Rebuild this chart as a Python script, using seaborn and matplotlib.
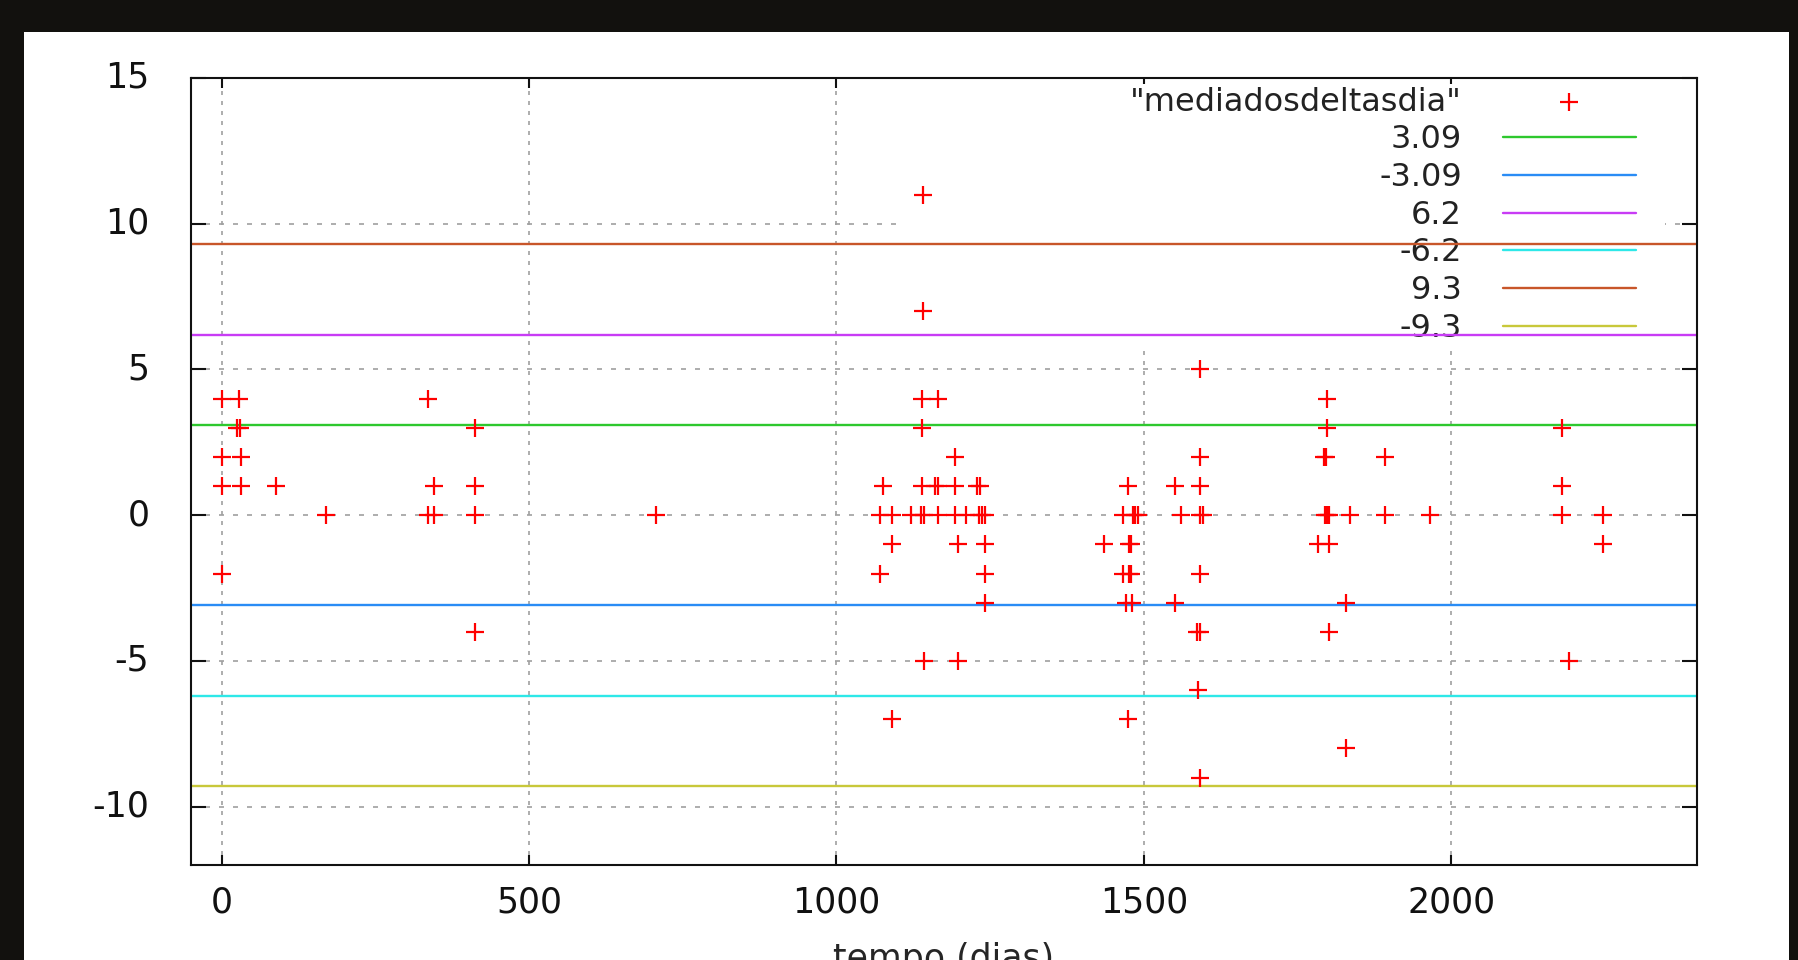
import matplotlib
matplotlib.use("Agg")
import matplotlib.pyplot as plt
import matplotlib.patches as mpatches
import matplotlib.transforms as mtransforms
import seaborn as sns

# daily mean deltas (x = day, y = delta)
days = [
    1141,
    1141,
    1592,
    0, 28, 336, 1139, 1166, 1798,
    25, 30, 412, 1139, 1798, 2180,
    0, 31, 1193, 1592, 1793, 1797, 1893,
    0, 31, 89, 345, 412, 1076, 1139, 1161, 1166, 1193, 1228, 1234, 1475, 1551, 1592, 2180,
    170, 336, 345, 412, 707, 1071, 1090, 1121, 1138, 1143, 1166, 1193, 1211, 1232, 1237, 1242,
    1466, 1482, 1486, 1490, 1560, 1592, 1597, 1795, 1798, 1801, 1835, 1893, 1965, 2180, 2247,
    1090, 1197, 1242, 1435, 1476, 1480, 1784, 1802, 2247,
    0, 1071, 1242, 1467, 1476, 1480, 1592,
    1242, 1471, 1481, 1551, 1829,
    412, 1587, 1591, 1802,
    1143, 1197, 2192,
    1588,
    1090, 1475,
    1829,
    1592,
]
delta = [
    11,
    7,
    5,
    4, 4, 4, 4, 4, 4,
    3, 3, 3, 3, 3, 3,
    2, 2, 2, 2, 2, 2, 2,
    1, 1, 1, 1, 1, 1, 1, 1, 1, 1, 1, 1, 1, 1, 1, 1,
    0, 0, 0, 0, 0, 0, 0, 0, 0, 0, 0, 0, 0, 0, 0, 0,
    0, 0, 0, 0, 0, 0, 0, 0, 0, 0, 0, 0, 0, 0, 0,
    -1, -1, -1, -1, -1, -1, -1, -1, -1,
    -2, -2, -2, -2, -2, -2, -2,
    -3, -3, -3, -3, -3,
    -4, -4, -4, -4,
    -5, -5, -5,
    -6,
    -7, -7,
    -8,
    -9,
]

limit_values = [3.09, -3.09, 6.2, -6.2, 9.3, -9.3]
limit_labels = ["3.09", "-3.09", "6.2", "-6.2", "9.3", "-9.3"]
limit_colors = ["#2ec82e", "#2a8cf5", "#c83cf5", "#2ee8e8", "#c8562a", "#c8c83a"]

x_ticks = [0, 500, 1000, 1500, 2000]
y_ticks = [-10, -5, 0, 5, 10, 15]

sns.set_style("white")
plt.rcParams.update({
    "font.family": ["DejaVu Sans"],
    "axes.unicode_minus": False,
    "text.color": "#222222",
    "xtick.color": "#111111",
    "ytick.color": "#111111",
})

W, H = 1798, 960
fig = plt.figure(figsize=(W / 100, H / 100), dpi=100, facecolor="#12110e")
fig.patches.append(mpatches.Rectangle((24 / W, 0), (1789 - 24) / W, (H - 32) / H,
                                      transform=fig.transFigure, facecolor="white",
                                      edgecolor="none", zorder=-10))

ax = fig.add_axes([191 / W, 1 - 865 / H, (1697 - 191) / W, (865 - 78) / H])
ax.set_facecolor("white")

sns.scatterplot(x=days, y=delta, marker="+", color="red", s=160, linewidth=1.6,
                ax=ax, zorder=3, legend=False)
handles = [ax.collections[-1]]
for val, lab, col in zip(limit_values, limit_labels, limit_colors):
    handles.append(ax.axhline(val, color=col, linewidth=1.7, label=lab, zorder=2))

ax.set_xlim(-50, 2400)
ax.set_ylim(-12, 15)
ax.set_xticks(x_ticks)
ax.set_yticks(y_ticks)

ax.set_axisbelow(True)
ax.grid(axis="y", color="#a0a0a0", linewidth=1.2, linestyle=(0, (3, 5.4)))
ax.grid(axis="x", color="#a0a0a0", linewidth=1.2, linestyle=(0, (2.4, 3.6)))

for sp in ax.spines.values():
    sp.set_visible(True)
    sp.set_color("#111111")
    sp.set_linewidth(1.5)

ax.tick_params(axis="y", direction="in", length=11, width=1.5, pad=30,
               labelsize=25, left=True, right=True)
ax.tick_params(axis="x", direction="in", length=7, width=1.5, pad=15,
               labelsize=25, bottom=True, top=True)

# gnuplot puts the y labels a touch above their ticks
lift = mtransforms.ScaledTranslation(0, 3.5 / 100, fig.dpi_scale_trans)
for lbl in ax.get_yticklabels():
    lbl.set_transform(lbl.get_transform() + lift)

ax.set_xlabel("tempo (dias)", fontsize=25, labelpad=16)

# opaque key box, like gnuplot's, hiding the grid behind the key
ax.add_patch(mpatches.Rectangle((0.469, 0.659), 0.979 - 0.469, 0.992 - 0.659,
                                transform=ax.transAxes, facecolor="white",
                                edgecolor="none", zorder=1))

leg = ax.legend(handles=handles, labels=['"mediadosdeltasdia"'] + limit_labels,
                loc="upper right", bbox_to_anchor=(0.9595, 0.989),
                frameon=False, markerfirst=False, fontsize=23,
                handlelength=4.17, handletextpad=1.28, labelspacing=0.21,
                borderpad=0, borderaxespad=0, scatterpoints=1)
leg.set_zorder(1.2)

fig.savefig("out.png", dpi=100, facecolor=fig.get_facecolor())
